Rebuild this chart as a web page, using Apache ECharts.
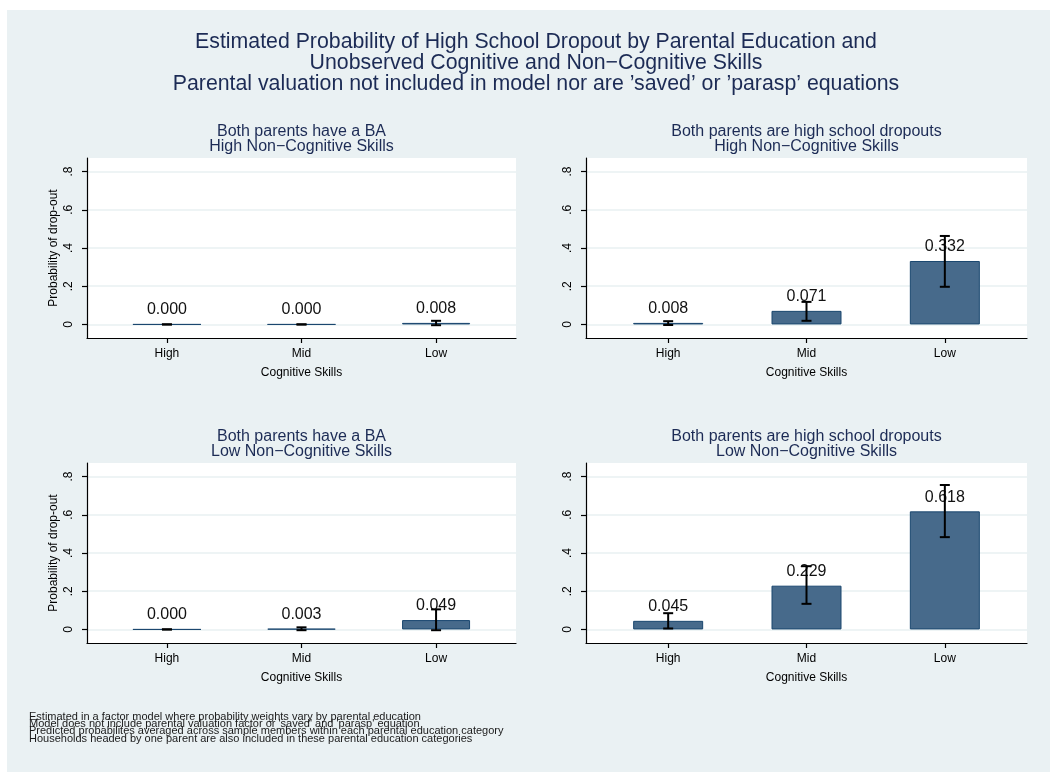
<!DOCTYPE html>
<html>
<head>
<meta charset="utf-8">
<script src="https://cdn.jsdelivr.net/npm/echarts@6/dist/echarts.min.js"></script>
<style>
html,body{margin:0;padding:0;background:#fff;}
#chart{width:1050px;height:772px;}
</style>
</head>
<body>
<div id="chart"></div>
<script>
// ---------- data ----------
const categories = ['High', 'Mid', 'Low'];
const yTickValues = [0, 0.2, 0.4, 0.6, 0.8];
const yTickLabels = ['0', '.2', '.4', '.6', '.8'];

const mainTitle = 'Estimated Probability of High School Dropout by Parental Education and\nUnobserved Cognitive and Non\u2212Cognitive Skills\nParental valuation not included in model nor are \u2019saved\u2019 or \u2019parasp\u2019 equations';
const panelTitles = [
  'Both parents have a BA\nHigh Non\u2212Cognitive Skills',
  'Both parents are high school dropouts\nHigh Non\u2212Cognitive Skills',
  'Both parents have a BA\nLow Non\u2212Cognitive Skills',
  'Both parents are high school dropouts\nLow Non\u2212Cognitive Skills'
];
const footNotes = [
  'Estimated in a factor model where probability weights vary by parental education',
  "Model does not include parental valuation factor or 'saved' and 'parasp' equation",
  'Predicted probabilites averaged across sample members within each parental education category',
  'Households headed by one parent are also included in these parental education categories'
];

// point estimates
const baHighNC  = [0.000, 0.000, 0.008];
const hsdHighNC = [0.008, 0.071, 0.332];
const baLowNC   = [0.000, 0.003, 0.049];
const hsdLowNC  = [0.045, 0.229, 0.618];
// confidence interval bounds
const baHighNC_lo  = [0.000, 0.000, -0.004];
const baHighNC_hi  = [0.000, 0.000, 0.019];
const hsdHighNC_lo = [-0.003, 0.019, 0.197];
const hsdHighNC_hi = [0.017, 0.118, 0.463];
const baLowNC_lo   = [0.000, -0.004, -0.004];
const baLowNC_hi   = [0.000, 0.011, 0.105];
const hsdLowNC_lo  = [0.005, 0.134, 0.483];
const hsdLowNC_hi  = [0.085, 0.331, 0.756];

const panelValues = [baHighNC, hsdHighNC, baLowNC, hsdLowNC];
const panelLo = [baHighNC_lo, hsdHighNC_lo, baLowNC_lo, hsdLowNC_lo];
const panelHi = [baHighNC_hi, hsdHighNC_hi, baLowNC_hi, hsdLowNC_hi];

// ---------- layout ----------
const FONT = 'Liberation Sans, Arial, Helvetica, sans-serif';
const NAVY = '#1c2b55';
const grids = [
  {left: 87,  top: 158, width: 429, height: 180},
  {left: 586, top: 158, width: 441, height: 180},
  {left: 87,  top: 463, width: 429, height: 180},
  {left: 586, top: 463, width: 441, height: 180}
];
const barWidths = [68, 70, 68, 70];
const showYName = [true, false, true, false];

const option = {
  backgroundColor: '#ffffff',
  animation: false,
  textStyle: {fontFamily: FONT},
  graphic: [
    {type: 'rect', left: 7, top: 10, z: -10, silent: true,
     shape: {width: 1043, height: 762}, style: {fill: '#eaf1f3'}},
    {type: 'text', left: 29, top: 711, z: 10,
     style: {text: footNotes.join('\n'), font: '11px ' + FONT, lineHeight: 7.4, fill: '#1a1a1a'}}
  ],
  title: [
    {text: mainTitle, left: 536, top: 32, textAlign: 'center', padding: 0,
     textStyle: {fontSize: 21.3, fontWeight: 'normal', color: NAVY, lineHeight: 21, fontFamily: FONT}}
  ],
  grid: [], xAxis: [], yAxis: [], series: []
};

grids.forEach((g, i) => {
  option.grid.push(Object.assign({show: true, backgroundColor: '#ffffff', borderWidth: 0}, g));
  option.title.push({
    text: panelTitles[i], left: g.left + g.width / 2, top: g.top - 34, textAlign: 'center', padding: 0,
    textStyle: {fontSize: 16, fontWeight: 'normal', color: NAVY, lineHeight: 15.2, fontFamily: FONT}
  });
  option.xAxis.push({
    type: 'value', gridIndex: i, min: -0.594, max: 2.594,
    name: 'Cognitive Skills', nameLocation: 'middle', nameGap: 29,
    nameTextStyle: {fontSize: 12, color: '#000', fontFamily: FONT},
    axisLine: {show: true, onZero: false, lineStyle: {color: '#000', width: 1.2}},
    axisTick: {show: true, length: 5, customValues: [0, 1, 2], lineStyle: {color: '#000', width: 1.2}},
    axisLabel: {customValues: [0, 1, 2], fontSize: 12, color: '#000', margin: 10,
                formatter: v => categories[Math.round(v)]},
    splitLine: {show: false}
  });
  option.yAxis.push({
    type: 'value', gridIndex: i, min: -0.071, max: 0.871,
    name: showYName[i] ? 'Probability of drop-out' : '',
    nameLocation: 'middle', nameGap: 27, nameRotate: 90,
    nameTextStyle: {fontSize: 12, color: '#000', fontFamily: FONT},
    axisLine: {show: true, onZero: false, lineStyle: {color: '#000', width: 1.2}},
    axisTick: {show: true, length: 5, customValues: yTickValues, lineStyle: {color: '#000', width: 1.2}},
    axisLabel: {customValues: yTickValues, rotate: 90, fontSize: 12, color: '#000', margin: 12,
                formatter: v => yTickLabels[yTickValues.indexOf(v)] ?? ''},
    splitLine: {show: true, lineStyle: {color: '#e8f0f2', width: 1.5}}
  });
  const vals = panelValues[i];
  option.series.push({
    type: 'bar', xAxisIndex: i, yAxisIndex: i, barWidth: barWidths[i], z: 2,
    data: vals.map((v, k) => [k, v]),
    itemStyle: {color: '#476a8b', borderColor: '#1a476f', borderWidth: 1},
    label: {show: true, position: 'top', distance: 6, fontSize: 16, color: '#111',
            fontFamily: FONT, formatter: p => vals[p.dataIndex].toFixed(3)}
  });
  option.series.push({
    type: 'custom', xAxisIndex: i, yAxisIndex: i, z: 5,
    data: vals.map((v, k) => [k, panelLo[i][k], panelHi[i][k]]),
    encode: {x: 0, y: [1, 2]},
    renderItem: (params, api) => {
      const x = api.value(0);
      const pLo = api.coord([x, api.value(1)]);
      const pHi = api.coord([x, api.value(2)]);
      const hw = 5;
      const st = {stroke: '#000', lineWidth: 2};
      return {type: 'group', children: [
        {type: 'line', shape: {x1: pLo[0], y1: pLo[1], x2: pHi[0], y2: pHi[1]}, style: st},
        {type: 'line', shape: {x1: pLo[0] - hw, y1: pLo[1], x2: pLo[0] + hw, y2: pLo[1]}, style: st},
        {type: 'line', shape: {x1: pHi[0] - hw, y1: pHi[1], x2: pHi[0] + hw, y2: pHi[1]}, style: st}
      ]};
    }
  });
});

const chart = echarts.init(document.getElementById('chart'), null, {renderer: 'canvas'});
chart.setOption(option);
</script>
</body>
</html>
